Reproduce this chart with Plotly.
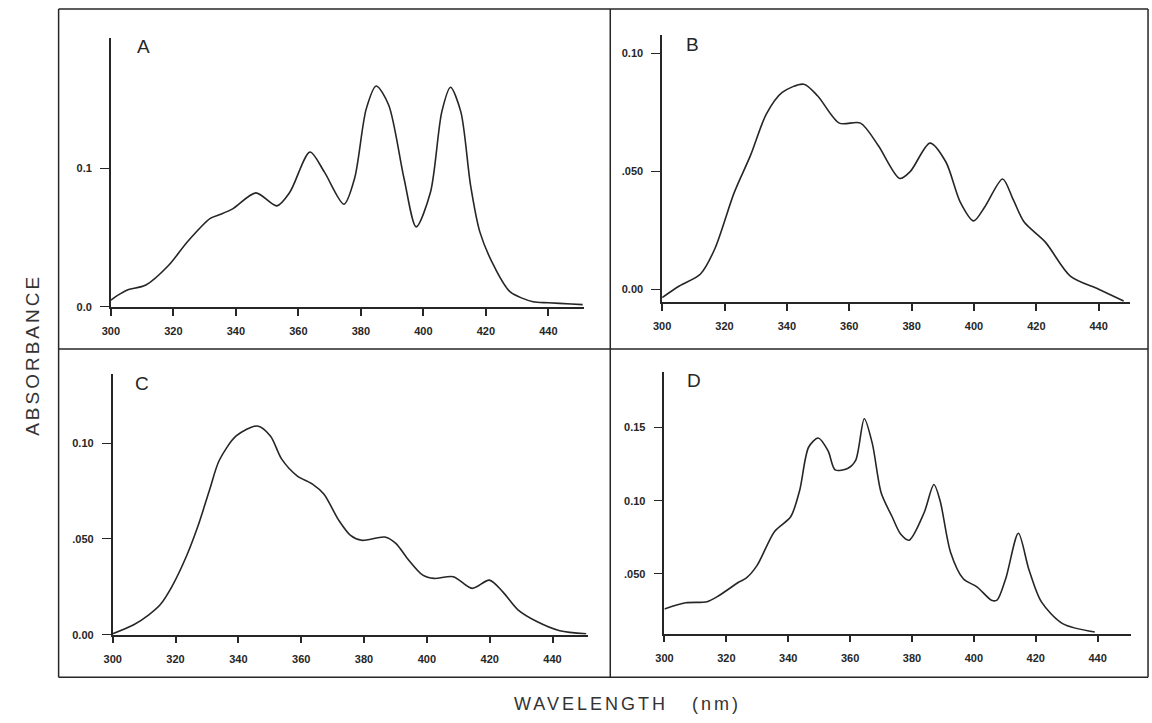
import plotly.graph_objects as go

W, H = 1152, 723

# ---------------- data ----------------
x_ticks = [300, 320, 340, 360, 380, 400, 420, 440]
x_tick_labels = ["300", "320", "340", "360", "380", "400", "420", "440"]

a_nm = [300, 302, 305.1, 311.2, 318.5, 324.5, 331.8, 334.9, 339.1, 346.4, 353.1, 357.3,
        363.7, 368.3, 374.6, 378, 381.7, 384.9, 388.9, 393.8, 397.7, 402.3, 405.9, 408.7,
        412, 415.1, 418.1, 423, 427.8, 435.1, 440, 447.3, 451]
a_abs = [0.0048, 0.008, 0.012, 0.0157, 0.030, 0.047, 0.0639, 0.0667, 0.071, 0.0824, 0.073, 0.083,
         0.112, 0.0976, 0.0742, 0.093, 0.143, 0.1598, 0.146, 0.093, 0.0578, 0.083, 0.141, 0.1588,
         0.141, 0.088, 0.054, 0.0277, 0.0108, 0.0036, 0.0029, 0.002, 0.0015]
a_yticks = [0.0, 0.1]
a_ylabels = ["0.0", "0.1"]

b_nm = [300, 305.5, 312.3, 316.9, 323.1, 328.3, 333.4, 338.5, 345.4, 349.9, 356.8, 363.6,
        369.3, 376.2, 379.6, 385.9, 391, 395.6, 399.9, 403.5, 409.2, 412.6, 416.1, 422.9,
        430.9, 440, 448]
b_abs = [-0.0035, 0.0014, 0.0065, 0.0172, 0.041, 0.0567, 0.0743, 0.0835, 0.087, 0.082, 0.0705, 0.0705,
         0.061, 0.047, 0.050, 0.062, 0.054, 0.037, 0.029, 0.035, 0.0468, 0.038, 0.0285, 0.020,
         0.0056, 0.0, -0.005]
b_yticks = [0.0, 0.05, 0.10]
b_ylabels = ["0.00", ".050", "0.10"]

c_nm = [300, 306.7, 311.5, 315.1, 318.8, 323.6, 327.2, 330.9, 333.9, 339.3, 346, 350.2,
        353.8, 358.7, 363.6, 367.2, 372, 375.7, 379.3, 386.6, 390.2, 393.8, 398.7, 402.3,
        408.4, 414.4, 419.9, 424.1, 429, 435, 442.3, 450.7]
c_abs = [0.0005, 0.0052, 0.0104, 0.0156, 0.025, 0.0415, 0.057, 0.076, 0.091, 0.1038, 0.109, 0.1038,
         0.0917, 0.083, 0.0787, 0.0735, 0.0597, 0.0519, 0.0493, 0.051, 0.0476, 0.0398, 0.0311, 0.0294,
         0.0303, 0.0242, 0.0285, 0.0225, 0.013, 0.0069, 0.0021, 0.0005]
c_yticks = [0.0, 0.05, 0.10]
c_ylabels = ["0.00", ".050", "0.10"]

d_nm = [300, 306.9, 313.8, 317.8, 324.1, 326.4, 329.9, 335.6, 340.8, 343.7, 346.6, 349.7,
        352.9, 355.2, 359.2, 361.8, 364.6, 367.2, 370.1, 373.6, 376.4, 379.1, 383.9, 387.1,
        389.1, 392.5, 396.6, 401.1, 405.7, 407.5, 410.3, 414.4, 417.8, 421.8, 428.7, 439.1]
d_abs = [0.026, 0.0302, 0.031, 0.0354, 0.0444, 0.047, 0.0556, 0.079, 0.089, 0.107, 0.1365, 0.1428,
         0.134, 0.121, 0.122, 0.1275, 0.156, 0.139, 0.105, 0.089, 0.077, 0.073, 0.0916, 0.111,
         0.100, 0.0646, 0.0466, 0.041, 0.032, 0.032, 0.0466, 0.0777, 0.053, 0.031, 0.016, 0.0103]
d_yticks = [0.05, 0.10, 0.15]
d_ylabels = [".050", "0.10", "0.15"]

panel_letters = ["A", "B", "C", "D"]

# ---------------- layout helpers ----------------
INK = "#262626"

def px_x(p):
    return p / W

def px_y(p):
    return 1 - p / H

panels = [
    (a_nm, a_abs, a_yticks, a_ylabels, (102.7, 579.8), (309.3, 38.3), (300, 451.5), (0, 0.1945), (136, 47)),
    (b_nm, b_abs, b_yticks, b_ylabels, (658.3, 1130.0), (305.0, 35.0), (300, 450.1), (-0.0056, 0.108), (689, 45)),
    (c_nm, c_abs, c_yticks, c_ylabels, (104.5, 583.6), (640.0, 376.7), (300, 451.3), (0, 0.1364), (134, 387)),
    (d_nm, d_abs, d_yticks, d_ylabels, (660.6, 1130.5), (639.0, 375.0), (300, 450.7), (0.0091, 0.188), (690, 384)),
]

fig = go.Figure()
layout = dict(
    width=W, height=H,
    margin=dict(l=0, r=0, t=0, b=0),
    paper_bgcolor="white", plot_bgcolor="white",
    showlegend=False,
    font=dict(family="Liberation Sans, Arial, sans-serif", color=INK),
)
annotations = []

for i, (nm, ab, yt, yl, xd, yd, xr, yr, lp) in enumerate(panels):
    n = "" if i == 0 else str(i + 1)
    fig.add_trace(go.Scatter(
        x=nm, y=ab, mode="lines",
        line=dict(color=INK, width=1.6, shape="spline", smoothing=0.8),
        xaxis="x" + n, yaxis="y" + n, hoverinfo="skip",
    ))
    layout["xaxis" + n] = dict(
        domain=[px_x(xd[0]), px_x(xd[1])], range=list(xr), anchor="y" + n,
        showgrid=False, zeroline=False, showline=True, linecolor=INK, linewidth=1.6,
        ticks="outside", ticklen=7, tickwidth=1.6, tickcolor=INK,
        tickvals=x_ticks, ticktext=x_tick_labels, ticklabelstandoff=6,
        tickfont=dict(size=11, color=INK, weight="bold"),
    )
    layout["yaxis" + n] = dict(
        domain=[px_y(yd[0]), px_y(yd[1])], range=list(yr), anchor="x" + n,
        showgrid=False, zeroline=False, showline=True, linecolor=INK, linewidth=1.6,
        ticks="outside", ticklen=9, tickwidth=1.4, tickcolor=INK,
        tickvals=yt, ticktext=yl, ticklabelstandoff=6,
        tickfont=dict(size=11, color=INK, weight="bold"),
    )
    annotations.append(dict(
        x=px_x(lp[0]), y=px_y(lp[1]), xref="paper", yref="paper",
        text=panel_letters[i], showarrow=False, xanchor="center", yanchor="middle",
        font=dict(size=19, color=INK),
    ))

annotations.append(dict(
    x=px_x(23), y=px_y(358), xref="paper", yref="paper", textangle=-90,
    text='<span style="letter-spacing:3px">ABSORBANCE</span>', showarrow=False,
    xanchor="center", yanchor="middle", font=dict(size=19, color="#333333"),
))
annotations.append(dict(
    x=px_x(623), y=px_y(710), xref="paper", yref="paper",
    text='<span style="letter-spacing:3px">WAVELENGTH\u00a0\u00a0\u00a0(nm)</span>', showarrow=False,
    xanchor="center", yanchor="middle", font=dict(size=18, color="#333333"),
))

# outer frame and dividers
L, R, T, B = 50, 1148, 9, 683
MX, MY = 606, 352
shapes = []
for (x0, y0, x1, y1) in [(L, T, R, T), (L, B, R, B), (L, T, L, B), (R, T, R, B),
                         (MX, T, MX, B), (L, MY, R, MY)]:
    shapes.append(dict(type="line", xref="paper", yref="paper",
                       x0=px_x(x0), y0=px_y(y0), x1=px_x(x1), y1=px_y(y1),
                       line=dict(color=INK, width=1.5)))
layout["shapes"] = shapes
layout["annotations"] = annotations

fig.update_layout(**layout)
fig.write_html("out.html")
